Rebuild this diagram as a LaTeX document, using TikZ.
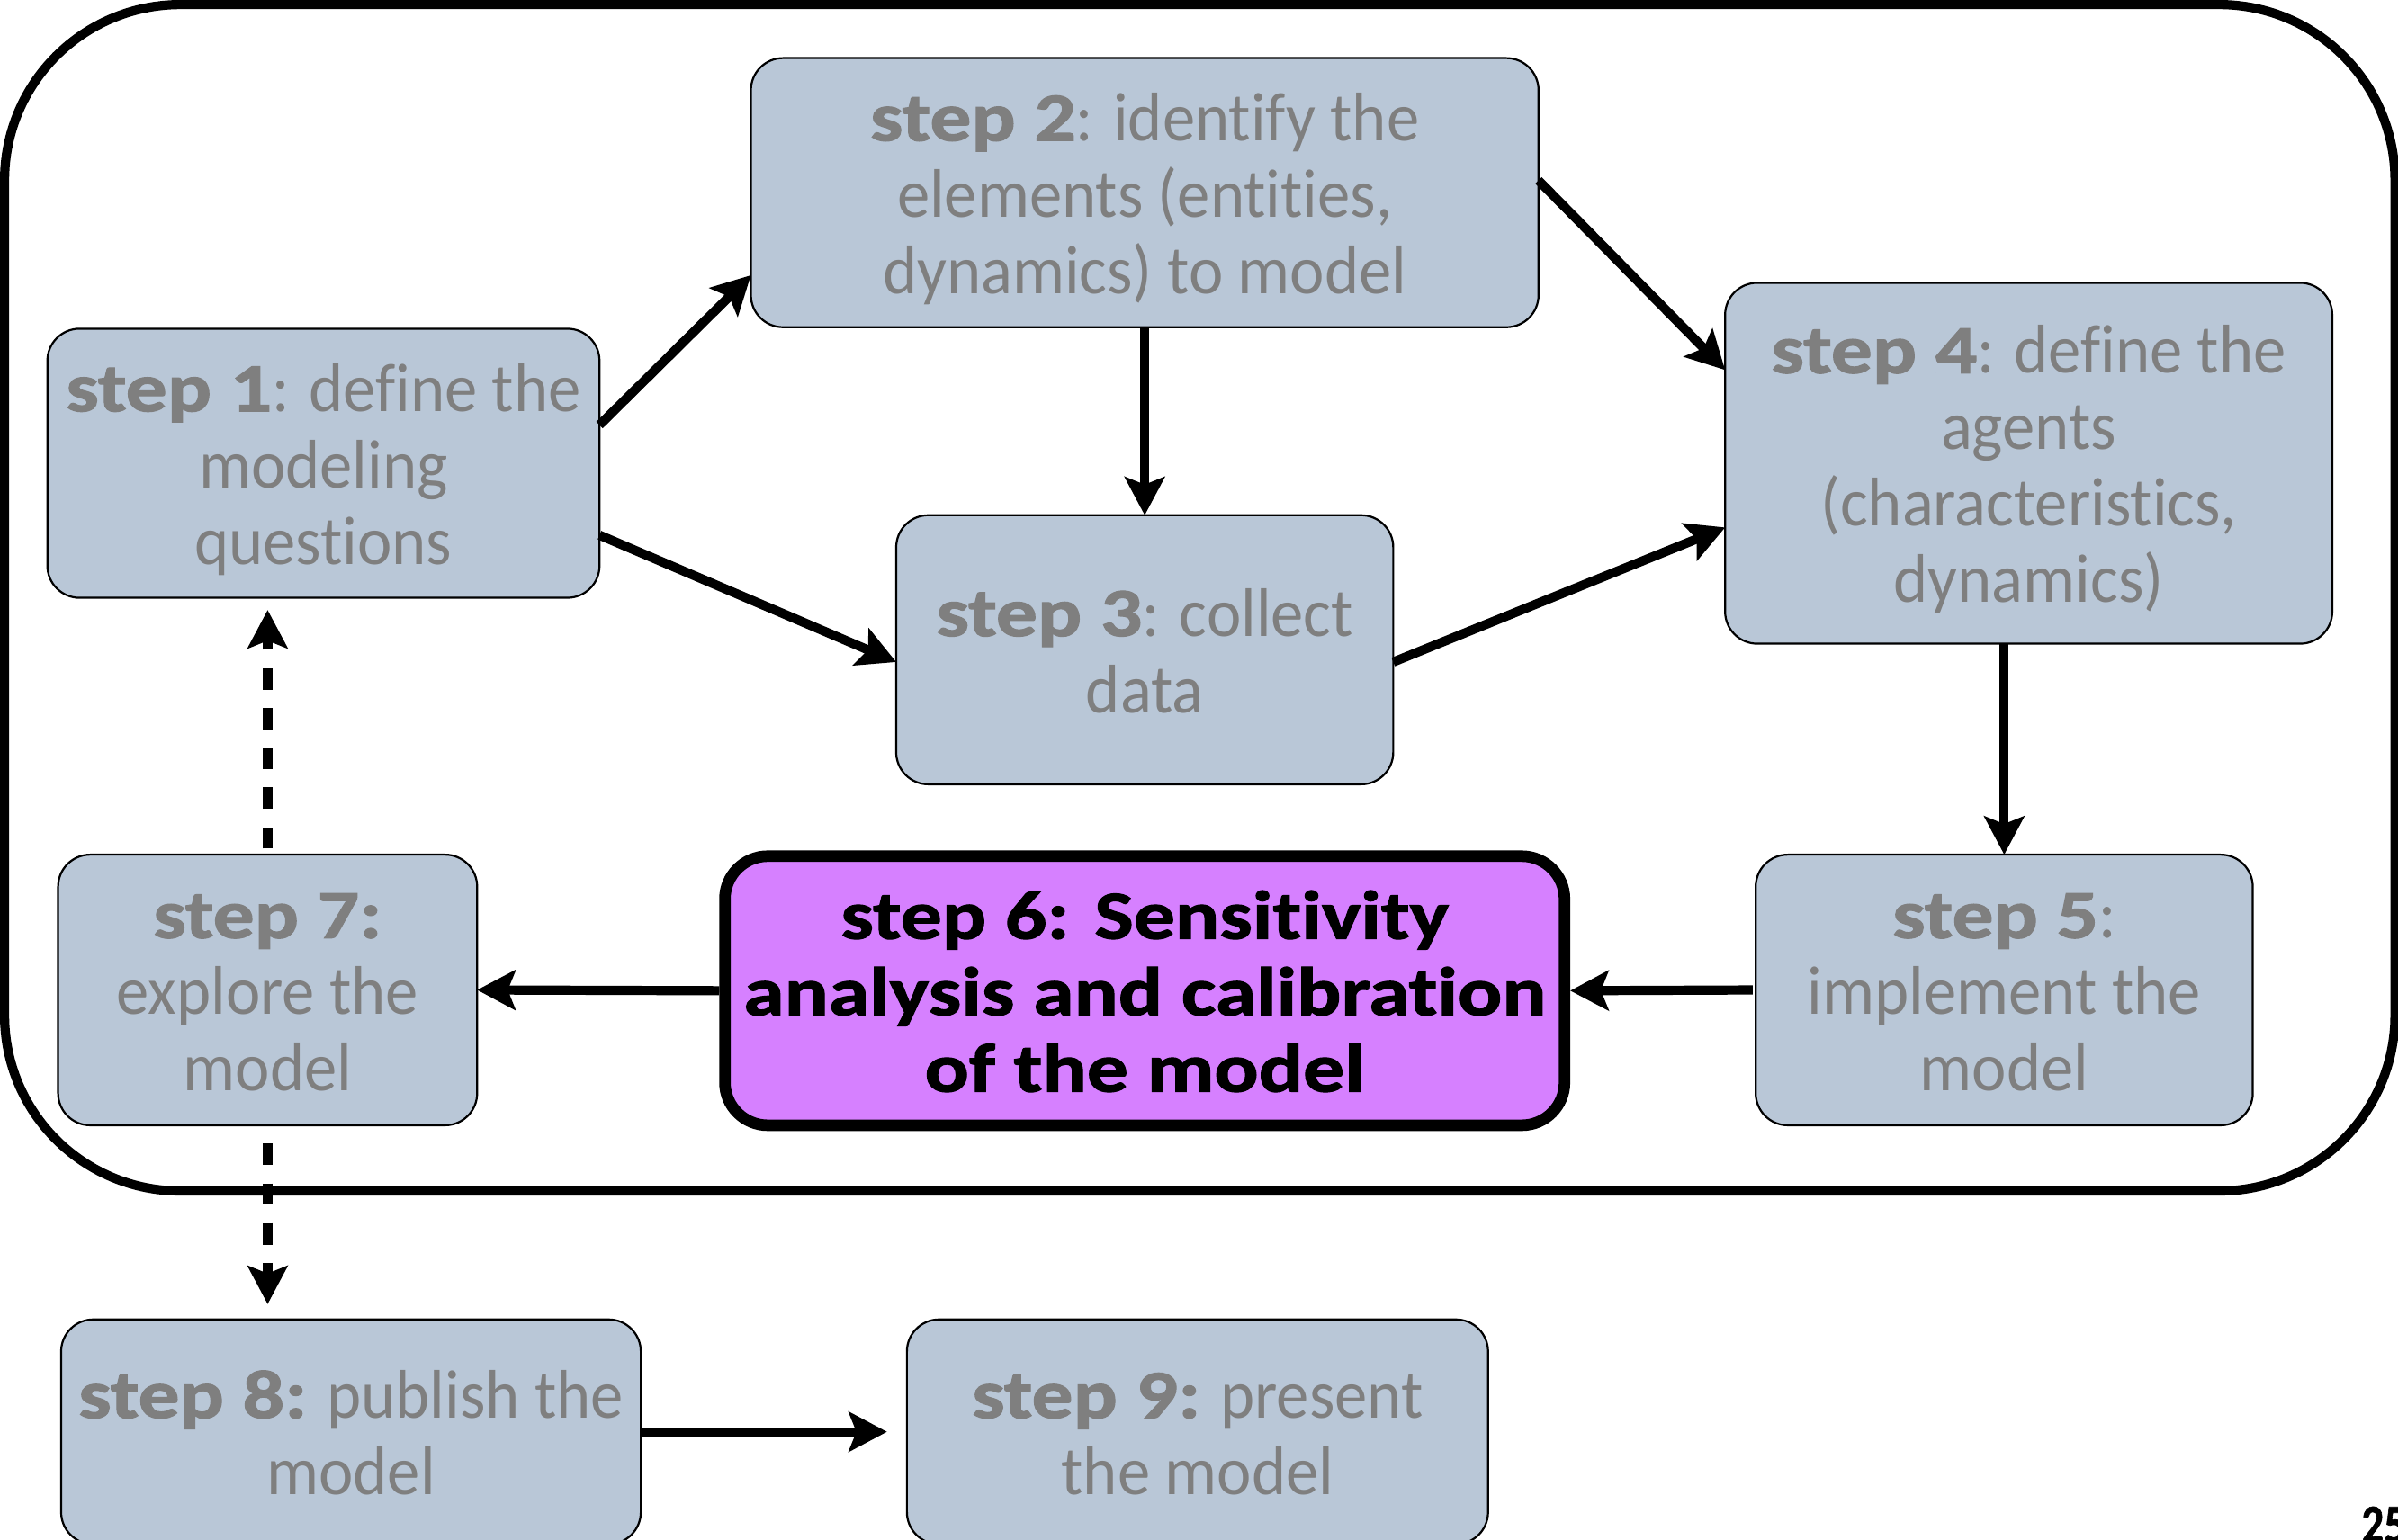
\documentclass[tikz,border=0pt]{standalone}
\usepackage{fontspec}
\setmainfont{Carlito}[Ligatures=NoCommon,
  UprightFeatures={FakeStretch=0.95},
  BoldFeatures={FakeStretch=1.2,FakeBold=1.5}]
\newfontfamily\pagefont{Carlito}[Ligatures=NoCommon,
  UprightFeatures={FakeStretch=0.8},
  BoldFeatures={FakeStretch=0.8,FakeBold=1}]
\usetikzlibrary{arrows.meta}
\definecolor{boxfill}{RGB}{185,199,215}
\definecolor{textgray}{RGB}{127,127,127}
\definecolor{hilite}{RGB}{214,128,255}
% struts that fix the first baseline and the last depth of a box text
\newcommand\firstln{\rule{0pt}{46pt}}
\newcommand\lastln{\rule[-14pt]{0pt}{0pt}}
\begin{document}
\begin{tikzpicture}[x=1pt,y=-1pt,
  stepbox/.style={draw=black, line width=1.3pt, fill=boxfill, rounded corners=21pt,
    text=textgray, align=center, inner sep=0pt, outer sep=0pt,
    font=\fontsize{45}{50}\selectfont},
  keybox/.style={draw=black, line width=7.5pt, fill=hilite, rounded corners=28pt,
    text=black, align=center, inner sep=0pt, outer sep=3.75pt,
    font=\fontsize{45}{50}\selectfont\bfseries},
  flow/.style={line width=6pt, -{Stealth[length=25pt,width=26pt,inset=5pt]}},
  loose/.style={flow, dash pattern=on 14pt off 12pt}]
\useasboundingbox (0,0) rectangle (1568,1007);
\clip (0,0) rectangle (1568,1007);
\fill[white] (0,0) rectangle (1568,1007);

% frame around the model-building loop
\draw[line width=6pt, rounded corners=115pt] (3,3) rectangle (1566,779);

% steps
\node[stepbox, minimum width=361pt, minimum height=176pt] (s1) at (211.5,303)
  {\firstln{\bfseries step 1}: define the\\modeling\\questions\lastln};
\node[stepbox, minimum width=515pt, minimum height=176pt] (s2) at (748.5,126)
  {\firstln{\bfseries step 2}: identify the\\elements (entities,\\dynamics) to model\lastln};
\node[stepbox, minimum width=325pt, minimum height=176pt] (s3) at (748.5,425)
  {\firstln{\bfseries step 3}: collect\\data\lastln};
\node[stepbox, minimum width=397pt, minimum height=236pt] (s4) at (1326.5,303)
  {\firstln{\bfseries step 4}: define the\\agents\\(characteristics,\\dynamics)\lastln};
\node[stepbox, minimum width=325pt, minimum height=177pt] (s5) at (1310.5,647.5)
  {\firstln{\bfseries step 5}:\\implement the\\model\lastln};
\node[keybox, minimum width=549pt, minimum height=176pt] (s6) at (748.5,648)
  {\firstln step 6: Sensitivity\\analysis and calibration\\of the model\lastln};
\node[stepbox, minimum width=274pt, minimum height=177pt] (s7) at (175,647.5)
  {\firstln{\bfseries step 7:}\\explore the\\model\lastln};
\node[stepbox, minimum width=379pt, minimum height=147pt] (s8) at (229.5,936.5)
  {\firstln{\bfseries step 8:} publish the\\model\lastln};
\node[stepbox, minimum width=380pt, minimum height=147pt] (s9) at (783,936.5)
  {\firstln{\bfseries step 9:} present\\the model\lastln};

% slide number
\node[anchor=base west, inner sep=0pt, font=\fontsize{36}{36}\selectfont\pagefont\bfseries] (pg) at (1544,1009) {25};

% connectors
\draw[flow] ([yshift=25pt]s1.east) -- ([yshift=-54pt]s2.west);
\draw[flow] ([yshift=-47pt]s1.east) -- ([yshift=-8pt]s3.west);
\draw[flow] (s2.south) -- (s3.north);
\draw[flow] ([yshift=8pt]s2.east) -- ([yshift=61pt]s4.west);
\draw[flow] ([yshift=-8pt]s3.east) -- ([yshift=-42pt]s4.west);
\draw[flow] (s4.south -| s5.north) -- (s5.north);
\draw[flow, shorten <=2pt] (s5.west) -- (s6.east);
\draw[flow] (s6.west) -- (s7.east);
\draw[loose, shorten <=4pt, shorten >=8pt] (s7.north) -- (s7.north |- s1.south);
\draw[loose, shorten <=12pt, shorten >=10pt] (s7.south) -- (s7.south |- s8.north);
\draw[flow, shorten >=13pt] (s8.east) -- (s9.west);
\end{tikzpicture}
\end{document}
